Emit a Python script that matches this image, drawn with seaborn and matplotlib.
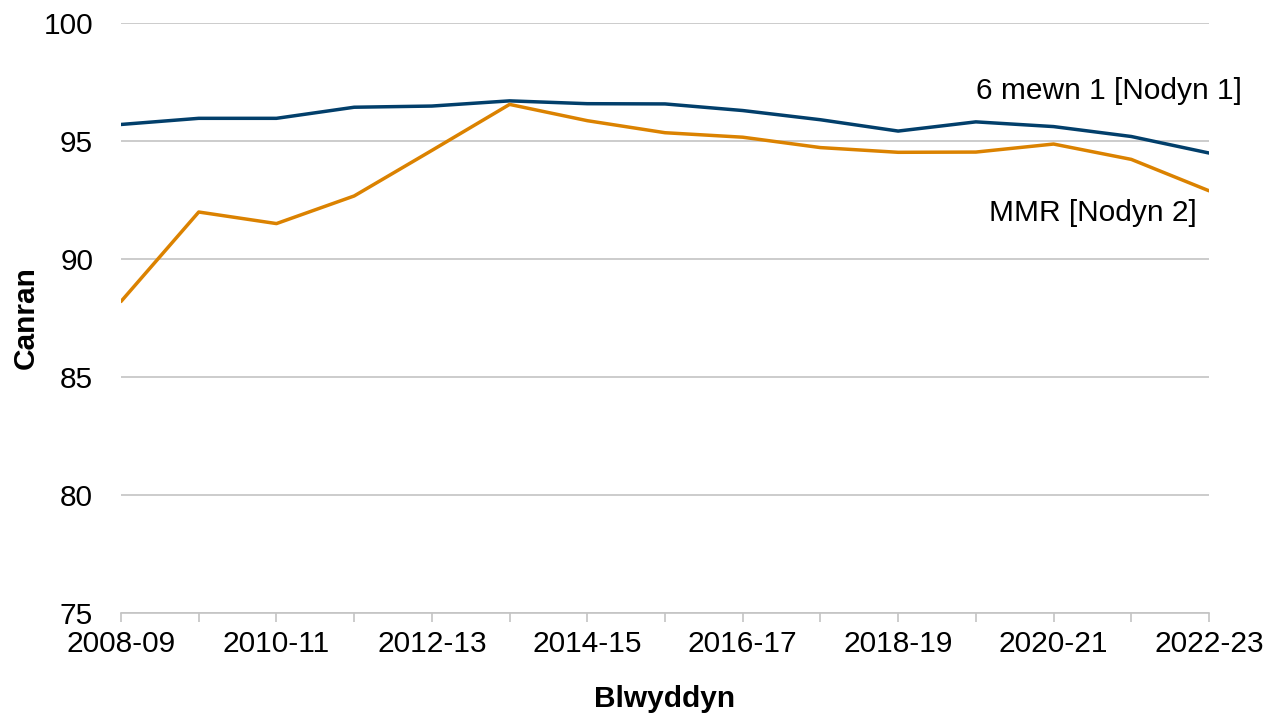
import matplotlib
matplotlib.use("Agg")
import matplotlib.pyplot as plt
import seaborn as sns
import pandas as pd

years = ["2008-09", "2009-10", "2010-11", "2011-12", "2012-13", "2013-14", "2014-15",
         "2015-16", "2016-17", "2017-18", "2018-19", "2019-20", "2020-21", "2021-22", "2022-23"]
six_in_one = [95.7, 95.96, 95.96, 96.43, 96.48, 96.7, 96.58, 96.57, 96.29, 95.9,
              95.42, 95.81, 95.61, 95.19, 94.49]
mmr = [88.2, 91.99, 91.5, 92.67, 94.6, 96.55, 95.86, 95.35, 95.16, 94.72,
       94.52, 94.53, 94.87, 94.22, 92.89]
series_names = ["6 mewn 1 [Nodyn 1]", "MMR [Nodyn 2]"]
yticks = [75, 80, 85, 90, 95, 100]

df = pd.DataFrame({
    "Blwyddyn": years * 2,
    "Canran": six_in_one + mmr,
    "Cyfres": [series_names[0]] * len(years) + [series_names[1]] * len(years),
})
df["pos"] = list(range(len(years))) * 2

sns.set_theme(style="white")
plt.rcParams["font.family"] = ["Liberation Sans", "DejaVu Sans"]

FS = 21.5

fig = plt.figure(figsize=(12.78, 7.16), dpi=100)
ax = fig.add_axes([0.0947, 0.1439, 0.8513, 0.8240])

palette = {series_names[0]: "#023F6B", series_names[1]: "#DB8200"}
sns.lineplot(data=df, x="pos", y="Canran", hue="Cyfres", palette=palette,
             linewidth=2.5, ax=ax, legend=False)

ax.set_xlim(0, len(years) - 1)
ax.set_ylim(75, 100)
ax.set_yticks(yticks)
ax.set_xticks(range(len(years)))
ax.set_xticklabels([y if i % 2 == 0 else "" for i, y in enumerate(years)])
ax.yaxis.grid(True, color="#C4C4C4", linewidth=1.2)
ax.set_axisbelow(True)

for side in ["left", "right", "top"]:
    ax.spines[side].set_visible(False)
ax.spines["bottom"].set_color("#C4C4C4")
ax.spines["bottom"].set_linewidth(1.2)
ax.tick_params(axis="x", which="major", direction="out", length=6.5, width=1.2,
               color="#C4C4C4", labelsize=FS, pad=6, bottom=True)
ax.tick_params(axis="y", length=0, labelsize=FS, pad=20)
for lbl in ax.get_xticklabels() + ax.get_yticklabels():
    lbl.set_color("#000000")

ax.set_xlabel("Blwyddyn", fontsize=FS, fontweight="bold", labelpad=19, color="#000000")
ax.set_ylabel("Canran", fontsize=FS, fontweight="bold", labelpad=3, color="#000000")

ax.text(14.42, 97.12, series_names[0], ha="right", va="center", fontsize=FS, color="#000000")
ax.text(13.84, 91.95, series_names[1], ha="right", va="center", fontsize=FS, color="#000000")

fig.savefig("out.png", dpi=100)
